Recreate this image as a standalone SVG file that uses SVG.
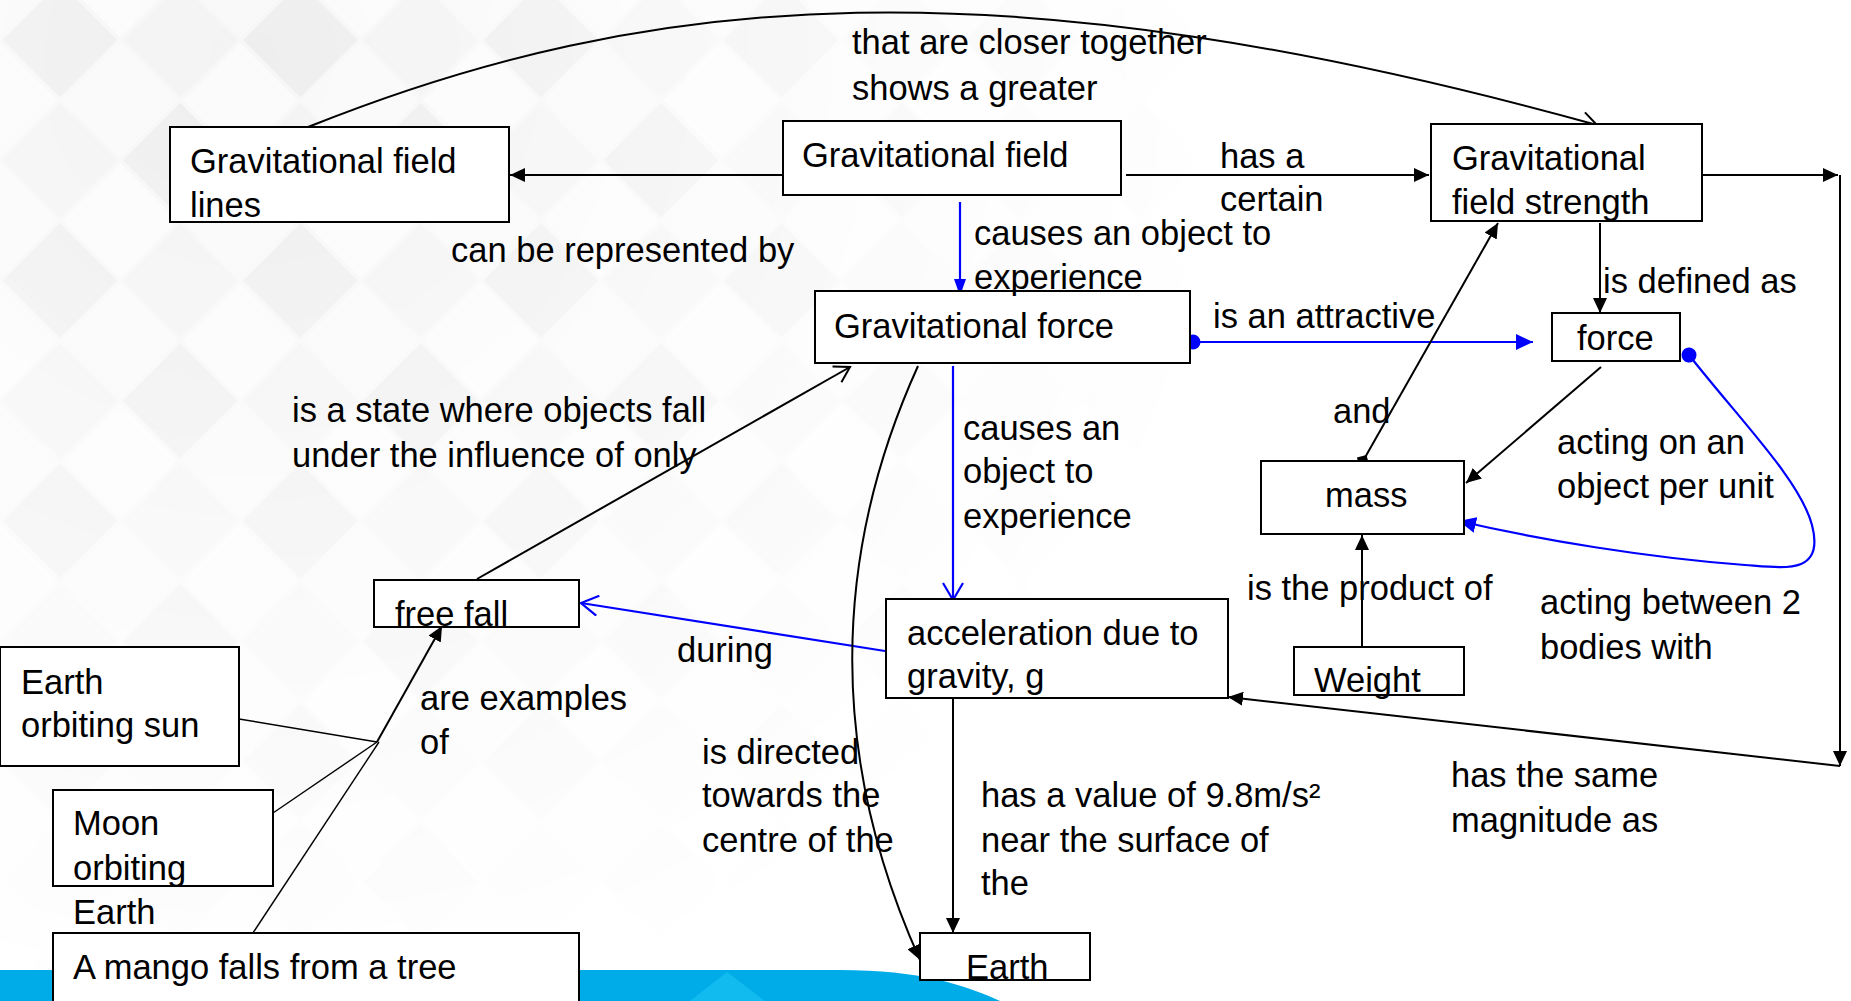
<svg xmlns="http://www.w3.org/2000/svg" width="1851" height="1001" viewBox="0 0 1851 1001">
<style>
text{font-family:"Liberation Sans",Arial,sans-serif;font-size:34.5px;fill:#000}
.box{fill:#fff;stroke:#000;stroke-width:2}
.c{fill:none;stroke:#000;stroke-width:2}
.thin{fill:none;stroke:#000;stroke-width:1.4}
.b{fill:none;stroke:#0000ff;stroke-width:2.2}
</style>
<defs>
<pattern id="dia" width="170" height="170" patternUnits="userSpaceOnUse" patternTransform="translate(60,-20) rotate(45)">
<rect width="170" height="170" fill="#f7f7f7"/>
<rect x="2" y="2" width="81" height="81" fill="#eeeeee"/>
<rect x="87" y="2" width="81" height="81" fill="#f9f9f9"/>
<rect x="2" y="87" width="81" height="81" fill="#fbfbfb"/>
<rect x="87" y="87" width="81" height="81" fill="#f3f3f3"/>
</pattern>
<radialGradient id="fade" cx="250" cy="60" r="1000" gradientUnits="userSpaceOnUse">
<stop offset="0" stop-color="#fff" stop-opacity="1"/>
<stop offset="0.5" stop-color="#fff" stop-opacity="0.5"/>
<stop offset="1" stop-color="#fff" stop-opacity="0"/>
</radialGradient>
<mask id="m"><rect width="1851" height="1001" fill="url(#fade)"/></mask>
<marker id="af" markerUnits="userSpaceOnUse" markerWidth="16" markerHeight="14" refX="15" refY="7" orient="auto"><path d="M0,0 L15,7 L0,14 z" fill="#000"/></marker>
<marker id="ao" markerUnits="userSpaceOnUse" markerWidth="18" markerHeight="20" refX="16" refY="10" orient="auto"><path d="M1,1 L16,10 L1,19" fill="none" stroke="#000" stroke-width="2"/></marker>
<marker id="abf" markerUnits="userSpaceOnUse" markerWidth="18" markerHeight="16" refX="17" refY="8" orient="auto"><path d="M0,0 L17,8 L0,16 z" fill="#0000ff"/></marker>
<marker id="abn" markerUnits="userSpaceOnUse" markerWidth="18" markerHeight="12" refX="17" refY="6" orient="auto"><path d="M0,0 L17,6 L0,12 z" fill="#0000ff"/></marker>
<marker id="abo" markerUnits="userSpaceOnUse" markerWidth="20" markerHeight="22" refX="18" refY="11" orient="auto"><path d="M1,1 L18,11 L1,21" fill="none" stroke="#0000ff" stroke-width="2.2"/></marker>
<marker id="dot" markerUnits="userSpaceOnUse" markerWidth="18" markerHeight="18" refX="9" refY="9" orient="auto"><circle cx="9" cy="9" r="7.5" fill="#0000ff"/></marker>
<marker id="dm" markerUnits="userSpaceOnUse" markerWidth="14" markerHeight="14" refX="7" refY="7" orient="auto"><path d="M0,7 L7,0 L14,7 L7,14 z" fill="#000"/></marker>
</defs>

<g id="background">
<rect width="1851" height="1001" fill="#fff"/>
<rect width="1851" height="1001" fill="url(#dia)" mask="url(#m)"/>
<path d="M0,970 L840,970 C920,970 965,985 1000,1001 L0,1001 Z" fill="#00ace8"/>
<polygon points="690,1001 727,972 765,1001" fill="#12bbef"/>
</g>

<g id="connectors">
<path class="c" d="M783,175 L510,175" marker-end="url(#af)"/>
<path class="c" d="M308,127 C650,-10 1000,-40 1597,125" marker-end="url(#ao)"/>
<path class="c" d="M1126,175 L1429,175" marker-end="url(#af)"/>
<path class="c" d="M1702,175 L1838,175" marker-end="url(#af)"/>
<path class="c" d="M1840,175 L1840,766" marker-end="url(#af)"/>
<path class="c" d="M1840,766 L1228,697" marker-end="url(#af)"/>
<path class="b" d="M960,202 L960,296" marker-end="url(#abn)"/>
<path class="b" d="M1193,342 L1533,342" marker-start="url(#dot)" marker-end="url(#abf)"/>
<path class="c" d="M1600,223 L1600,313" marker-end="url(#af)"/>
<path class="c" d="M1363,461 L1498,223" marker-start="url(#dm)" marker-end="url(#af)"/>
<path class="c" d="M1601,367 L1466,483" marker-end="url(#af)"/>
<path class="b" d="M1689,355 C1740,420 1800,480 1812,525 C1825,575 1785,568 1745,565 C1650,558 1540,540 1459,521" marker-start="url(#dot)" marker-end="url(#abf)"/>
<path class="c" d="M1362,647 L1362,535" marker-end="url(#af)"/>
<path class="b" d="M953,366 L953,600" marker-end="url(#abo)"/>
<path class="b" d="M885,651 L581,603" marker-end="url(#abo)"/>
<path class="c" d="M477,579 L850,367" marker-end="url(#ao)"/>
<path class="c" d="M918,366 C830,560 830,760 920,960" marker-end="url(#af)"/>
<path class="c" d="M953,698 L953,933" marker-end="url(#af)"/>
<path class="thin" d="M239,719 L377,742"/>
<path class="thin" d="M273,813 L377,742"/>
<path class="thin" d="M245,945 L379,742"/>
<path class="c" d="M377,742 L442,626" marker-end="url(#af)"/>
</g>

<g id="node-gfl"><rect class="box" x="170" y="127" width="339" height="95"/><text x="190" y="173">Gravitational field</text><text x="190" y="217">lines</text></g>
<g id="node-gf"><rect class="box" x="783" y="121" width="338" height="74"/><text x="802" y="167">Gravitational field</text></g>
<g id="node-gfs"><rect class="box" x="1431" y="124" width="271" height="97"/><text x="1452" y="170">Gravitational</text><text x="1452" y="214">field strength</text></g>
<g id="node-gforce"><rect class="box" x="815" y="291" width="375" height="72"/><text x="834" y="338">Gravitational force</text></g>
<g id="node-force"><rect class="box" x="1552" y="313" width="128" height="48"/><text x="1577" y="350">force</text></g>
<g id="node-mass"><rect class="box" x="1261" y="461" width="203" height="73"/><text x="1325" y="507">mass</text></g>
<g id="node-freefall"><rect class="box" x="374" y="580" width="205" height="47"/><text x="395" y="626">free fall</text></g>
<g id="node-accel"><rect class="box" x="886" y="599" width="342" height="99"/><text x="907" y="645">acceleration due to</text><text x="907" y="688">gravity, g</text></g>
<g id="node-weight"><rect class="box" x="1294" y="647" width="170" height="48"/><text x="1314" y="692">Weight</text></g>
<g id="node-eos"><rect class="box" x="0" y="647" width="239" height="119"/><text x="21" y="694">Earth</text><text x="21" y="737">orbiting sun</text></g>
<g id="node-moe"><rect class="box" x="53" y="790" width="220" height="96"/><text x="73" y="835">Moon</text><text x="73" y="880">orbiting</text><text x="73" y="924">Earth</text></g>
<g id="node-mango"><rect class="box" x="53" y="933" width="526" height="80"/><text x="73" y="979">A mango falls from a tree</text></g>
<g id="node-earth"><rect class="box" x="920" y="933" width="170" height="47"/><text x="966" y="979">Earth</text></g>

<g id="labels">
<text x="852" y="54">that are closer together</text>
<text x="852" y="100">shows a greater</text>
<text x="451" y="262">can be represented by</text>
<text x="1220" y="168">has a</text>
<text x="1220" y="211">certain</text>
<text x="974" y="245">causes an object to</text>
<text x="974" y="289">experience</text>
<text x="1213" y="328">is an attractive</text>
<text x="1603" y="293">is defined as</text>
<text x="1333" y="423">and</text>
<text x="1557" y="454">acting on an</text>
<text x="1557" y="498">object per unit</text>
<text x="292" y="422">is a state where objects fall</text>
<text x="292" y="467">under the influence of only</text>
<text x="963" y="440">causes an</text>
<text x="963" y="483">object to</text>
<text x="963" y="528">experience</text>
<text x="1247" y="600">is the product of</text>
<text x="1540" y="614">acting between 2</text>
<text x="1540" y="659">bodies with</text>
<text x="677" y="662">during</text>
<text x="420" y="710">are examples</text>
<text x="420" y="754">of</text>
<text x="702" y="764">is directed</text>
<text x="702" y="807">towards the</text>
<text x="702" y="852">centre of the</text>
<text x="981" y="807">has a value of 9.8m/s²</text>
<text x="981" y="852">near the surface of</text>
<text x="981" y="895">the</text>
<text x="1451" y="787">has the same</text>
<text x="1451" y="832">magnitude as</text>
</g>
</svg>
